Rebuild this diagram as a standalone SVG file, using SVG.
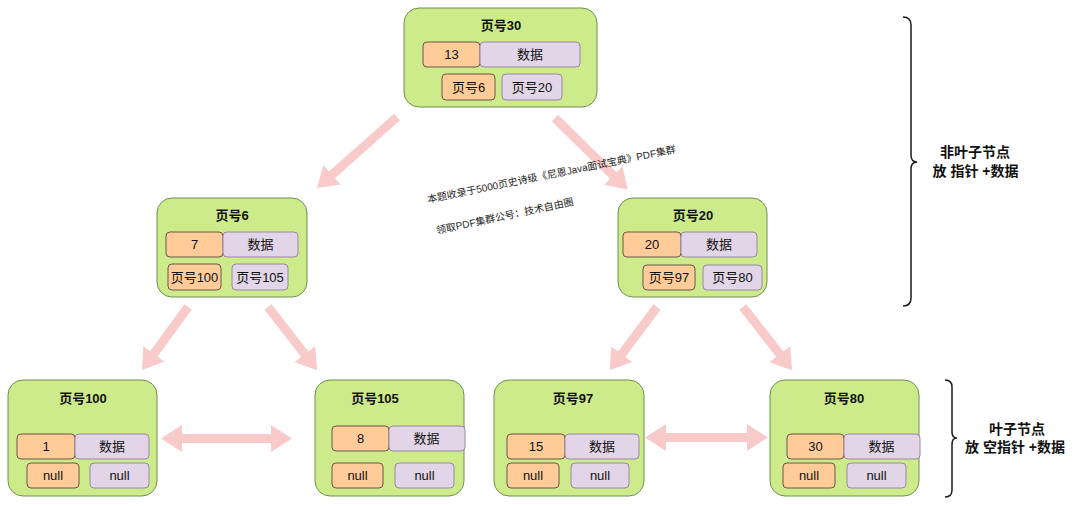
<svg xmlns="http://www.w3.org/2000/svg" width="1080" height="506" viewBox="0 0 1080 506">
<style>
text{font-family:"Liberation Sans","Noto Sans CJK SC",sans-serif;fill:#111;text-anchor:middle}
.node{fill:#cdeb8b;stroke:#6f8f50;stroke-width:1}
.o{fill:#ffcc99;stroke:#6b5646;stroke-width:1}
.p{fill:#e1d5e7;stroke:#9a86a6;stroke-width:1}
.t{font-size:13px;font-weight:bold}
.v{font-size:13px}
.arr{fill:#f8caca;stroke:none}
.brace{fill:none;stroke:#1a1a1a;stroke-width:1.5}
.lbl{font-size:14px;font-weight:bold}
.wm{font-size:10px;text-anchor:start;fill:#222}
</style>
<rect width="1080" height="506" fill="#ffffff"/>
<g id="connectors">
<g transform="translate(397,117) rotate(138.4)"><polygon class="arr" points="0,-4.5 87,-4.5 87,-13 107,0 87,13 87,4.5 0,4.5"/></g>
<g transform="translate(555,118) rotate(44.6)"><polygon class="arr" points="0,-4.5 82,-4.5 82,-13 102,0 82,13 82,4.5 0,4.5"/></g>
<g transform="translate(188,307) rotate(126.1)"><polygon class="arr" points="0,-4.5 58,-4.5 58,-13 78,0 58,13 58,4.5 0,4.5"/></g>
<g transform="translate(268,307) rotate(52.1)"><polygon class="arr" points="0,-4.5 60,-4.5 60,-13 80,0 60,13 60,4.5 0,4.5"/></g>
<g transform="translate(657,307) rotate(126.7)"><polygon class="arr" points="0,-4.5 59,-4.5 59,-13 79,0 59,13 59,4.5 0,4.5"/></g>
<g transform="translate(743,307) rotate(52.1)"><polygon class="arr" points="0,-4.5 60,-4.5 60,-13 80,0 60,13 60,4.5 0,4.5"/></g>
<polygon class="arr" points="161,438.5 182,425 182,434 271,434 271,425 292,438.5 271,452 271,443 182,443 182,452"/>
<polygon class="arr" points="645,437.5 666,424 666,433 747,433 747,424 768,437.5 747,451 747,442 666,442 666,451"/>
</g>
<g id="node-30">
<rect class="node" x="404" y="8" width="193" height="99" rx="15"/>
<text class="t" x="501" y="30">页号30</text>
<rect class="o" x="423" y="42" width="57" height="25" rx="4"/><text class="v" x="451.5" y="59">13</text>
<rect class="p" x="480" y="42" width="100" height="25" rx="4"/><text class="v" x="530" y="59">数据</text>
<rect class="o" x="442" y="74" width="53" height="26" rx="4"/><text class="v" x="468.5" y="91.5">页号6</text>
<rect class="p" x="502" y="74" width="60" height="26" rx="4"/><text class="v" x="532" y="91.5">页号20</text>
</g>
<g id="node-6">
<rect class="node" x="157" y="198" width="150" height="99" rx="15"/>
<text class="t" x="232" y="220">页号6</text>
<rect class="o" x="166" y="232" width="57" height="25" rx="4"/><text class="v" x="194.5" y="249">7</text>
<rect class="p" x="223" y="232" width="75" height="25" rx="4"/><text class="v" x="260.5" y="249">数据</text>
<rect class="o" x="168" y="264" width="53" height="26" rx="4"/><text class="v" x="194.5" y="281.5">页号100</text>
<rect class="p" x="232" y="264" width="56" height="26" rx="4"/><text class="v" x="260" y="281.5">页号105</text>
</g>
<g id="node-20">
<rect class="node" x="618" y="198" width="149" height="99" rx="15"/>
<text class="t" x="693" y="220">页号20</text>
<rect class="o" x="623" y="232" width="58" height="25" rx="4"/><text class="v" x="652" y="249">20</text>
<rect class="p" x="681" y="232" width="76" height="25" rx="4"/><text class="v" x="719" y="249">数据</text>
<rect class="o" x="643" y="265" width="52" height="25" rx="4"/><text class="v" x="669" y="282">页号97</text>
<rect class="p" x="703" y="265" width="59" height="25" rx="4"/><text class="v" x="732.5" y="282">页号80</text>
</g>
<g id="node-100">
<rect class="node" x="8" y="380" width="149" height="116" rx="15"/>
<text class="t" x="83" y="402.5">页号100</text>
<rect class="o" x="17" y="434" width="58" height="25" rx="4"/><text class="v" x="46" y="451">1</text>
<rect class="p" x="75" y="434" width="74" height="25" rx="4"/><text class="v" x="112" y="451">数据</text>
<rect class="o" x="27" y="463" width="52" height="25" rx="4"/><text class="v" x="53" y="480">null</text>
<rect class="p" x="90" y="463" width="59" height="25" rx="4"/><text class="v" x="119.5" y="480">null</text>
</g>
<g id="node-105">
<rect class="node" x="315" y="380" width="149" height="116" rx="15"/>
<text class="t" x="375" y="402.5">页号105</text>
<rect class="o" x="332" y="426" width="57" height="25" rx="4"/><text class="v" x="360.5" y="443">8</text>
<rect class="p" x="389" y="426" width="76" height="25" rx="4"/><text class="v" x="426.5" y="443">数据</text>
<rect class="o" x="332" y="463" width="51" height="25" rx="4"/><text class="v" x="357.5" y="480">null</text>
<rect class="p" x="395" y="463" width="59" height="25" rx="4"/><text class="v" x="424.5" y="480">null</text>
</g>
<g id="node-97">
<rect class="node" x="494" y="380" width="150" height="116" rx="15"/>
<text class="t" x="573" y="402.5">页号97</text>
<rect class="o" x="507" y="434" width="58" height="25" rx="4"/><text class="v" x="536" y="451">15</text>
<rect class="p" x="565" y="434" width="74" height="25" rx="4"/><text class="v" x="602" y="451">数据</text>
<rect class="o" x="507" y="463" width="52" height="25" rx="4"/><text class="v" x="533" y="480">null</text>
<rect class="p" x="571" y="463" width="58" height="25" rx="4"/><text class="v" x="600" y="480">null</text>
</g>
<g id="node-80">
<rect class="node" x="770" y="380" width="149" height="116" rx="15"/>
<text class="t" x="844" y="402.5">页号80</text>
<rect class="o" x="787" y="434" width="57" height="25" rx="4"/><text class="v" x="815.5" y="451">30</text>
<rect class="p" x="844" y="434" width="76" height="25" rx="4"/><text class="v" x="881.5" y="451">数据</text>
<rect class="o" x="783" y="463" width="52" height="25" rx="4"/><text class="v" x="809" y="480">null</text>
<rect class="p" x="847" y="463" width="59" height="25" rx="4"/><text class="v" x="876.5" y="480">null</text>
</g>
<g id="watermark">
<text class="wm" x="428" y="203" transform="rotate(-11.5 428 203)">本题收录于5000页史诗级《尼恩Java面试宝典》PDF集群</text>
<text class="wm" x="437" y="234" transform="rotate(-12 437 234)">领取PDF集群公号：技术自由圈</text>
</g>
<g id="brace-nonleaf">
<path class="brace" d="M903,17 Q911,17 911,25 L911,155 Q911,162 917,162 Q911,162 911,169 L911,298 Q911,306 903,306"/>
<text class="lbl" x="975" y="157">非叶子节点</text>
<text class="lbl" x="975.5" y="175.5">放 指针 +数据</text>
</g>
<g id="brace-leaf">
<path class="brace" d="M945,380 Q952,380 952,387 L952,432 Q952,438 957,438 Q952,438 952,444 L952,490 Q952,497 945,497"/>
<text class="lbl" x="1017" y="433.5">叶子节点</text>
<text class="lbl" x="1015" y="452">放 空指针 +数据</text>
</g>
</svg>
